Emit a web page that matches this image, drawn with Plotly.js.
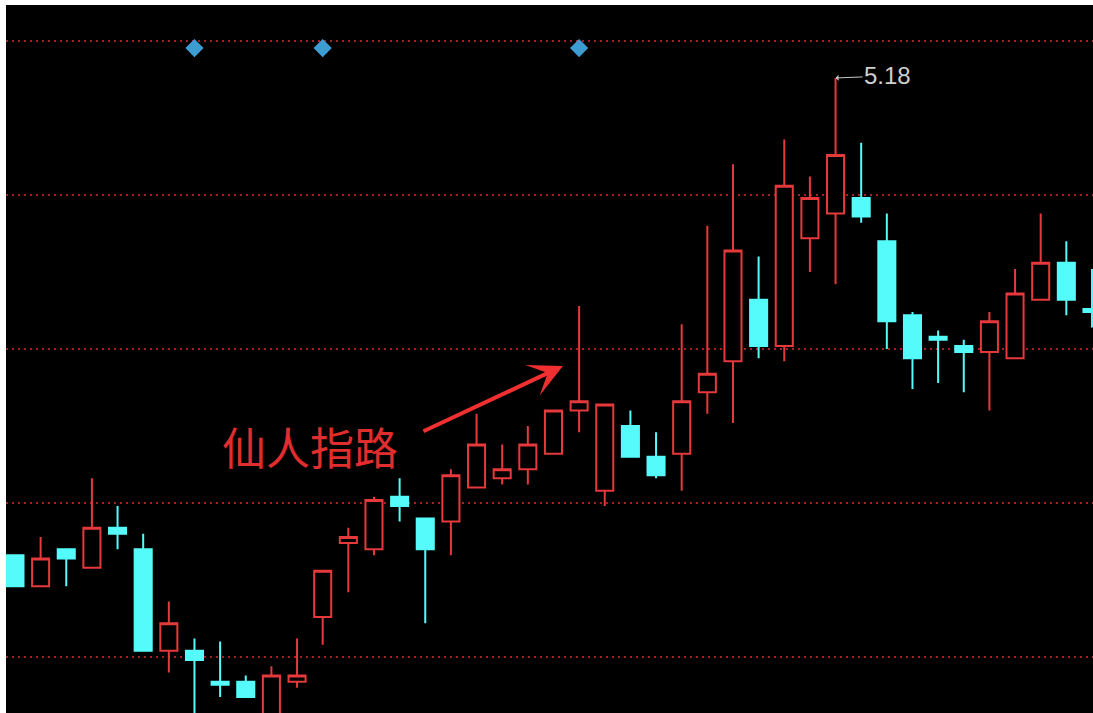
<!DOCTYPE html>
<html>
<head>
<meta charset="utf-8">
<script src="https://cdn.plot.ly/plotly-3.0.1.min.js"></script>
<style>html,body{margin:0;padding:0;background:#fff;}#chart{width:1093px;height:713px;}</style>
</head>
<body>
<div id="chart"></div>
<script>
// Candle index (trading day order)
var days = [];
for (var i = 0; i < 43; i++) days.push(i);

var openP  = [3.63,3.53,3.65,3.59,3.72,3.65,3.32,3.32,3.22,3.22,3.08,3.22,3.43,3.67,3.65,3.82,3.75,3.74,3.85,3.88,3.91,3.96,4.10,3.84,4.05,3.95,3.96,4.16,4.26,4.46,4.31,4.66,4.74,4.79,4.65,4.41,4.34,4.31,4.29,4.27,4.46,4.58,4.43];
var highP  = [3.63,3.69,3.65,3.88,3.79,3.70,3.48,3.36,3.35,3.24,3.27,3.36,3.58,3.72,3.82,3.88,3.75,3.91,4.09,3.99,4.05,4.10,4.44,4.12,4.10,4.03,4.38,4.70,4.90,4.60,4.98,4.86,5.18,4.97,4.74,4.42,4.36,4.33,4.42,4.56,4.74,4.65,4.56];
var lowP   = [3.53,3.53,3.53,3.59,3.65,3.32,3.25,3.08,3.17,3.17,3.05,3.20,3.34,3.51,3.63,3.74,3.41,3.63,3.85,3.86,3.86,3.96,4.03,3.79,3.95,3.88,3.84,4.09,4.06,4.27,4.26,4.55,4.51,4.71,4.30,4.17,4.19,4.16,4.10,4.27,4.46,4.41,4.37];
var closeP = [3.53,3.62,3.62,3.72,3.70,3.32,3.41,3.29,3.21,3.17,3.24,3.24,3.58,3.69,3.81,3.79,3.65,3.89,3.99,3.91,3.99,4.10,4.13,4.12,3.95,3.89,4.13,4.22,4.62,4.31,4.83,4.79,4.93,4.73,4.39,4.27,4.33,4.29,4.39,4.48,4.58,4.46,4.42];

// Signal markers (diamonds above candles)
var signalDays = [7, 12, 22];
var signalLevel = [5.277, 5.277, 5.277];

// Grid levels
var gridLevels = [3.3, 3.8, 4.3, 4.8, 5.3];

var peakDay = 32, peakPrice = 5.18;
var labelText = '仙人指路';

var traces = [
  {
    type: 'candlestick',
    x: days, open: openP, high: highP, low: lowP, close: closeP,
    increasing: {line: {color: '#e5393c', width: 2}, fillcolor: '#000000'},
    decreasing: {line: {color: '#55fbfb', width: 2}, fillcolor: '#55fbfb'},
    whiskerwidth: 0,
    hoverinfo: 'skip',
    showlegend: false
  },
  {
    type: 'scatter', mode: 'markers',
    x: signalDays, y: signalLevel,
    marker: {symbol: 'diamond', size: 14, color: '#3d9dd3', line: {width: 0}},
    hoverinfo: 'skip', showlegend: false
  }
];

var layout = {
  width: 1093, height: 713,
  margin: {l: 6, r: 0, t: 5, b: 0, pad: 0},
  paper_bgcolor: '#ffffff',
  plot_bgcolor: '#000000',
  showlegend: false,
  boxgap: 0.3,
  boxgroupgap: 0.05,
  xaxis: {
    range: [-0.35, 42.04],
    showgrid: false, zeroline: false, showticklabels: false, ticks: '',
    showline: false, rangeslider: {visible: false}, fixedrange: true
  },
  yaxis: {
    range: [3.1182, 5.4169],
    tickvals: gridLevels,
    showgrid: true, gridcolor: '#a62222', gridwidth: 1.5, griddash: '2px,4px',
    zeroline: false, showticklabels: false, ticks: '', showline: false, fixedrange: true
  },
  annotations: [
    {
      x: 11.5, y: 3.985, xref: 'x', yref: 'y',
      text: labelText, showarrow: false,
      font: {family: '"Noto Sans CJK SC", sans-serif', size: 44, color: '#e02d2d'}
    },
    {
      x: 21.37, y: 4.245, xref: 'x', yref: 'y',
      text: '', showarrow: true,
      ax: -141, ay: 66,
      arrowcolor: '#f03030', arrowwidth: 4, arrowhead: 3, arrowsize: 1.4, standoff: 0
    },
    {
      x: peakDay, y: peakPrice, xref: 'x', yref: 'y',
      text: peakPrice.toFixed(2), showarrow: true,
      ax: 52, ay: -2, standoff: 0,
      arrowcolor: '#c8c8c8', arrowwidth: 1, arrowhead: 1, arrowsize: 1,
      font: {family: 'Liberation Sans, Arial, sans-serif', size: 24, color: '#cfcfcf'}
    }
  ]
};

Plotly.newPlot('chart', traces, layout, {displayModeBar: false, staticPlot: true});
</script>
</body>
</html>
